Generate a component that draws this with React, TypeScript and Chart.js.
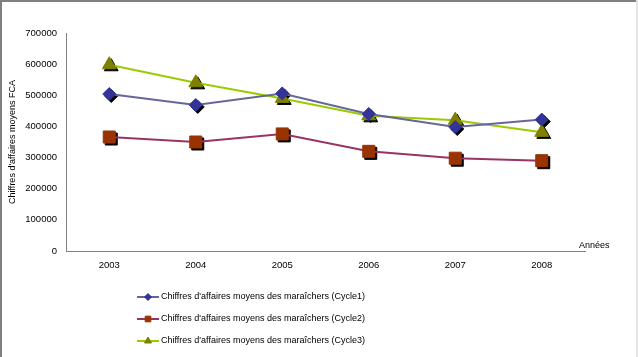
import React, { useEffect, useRef } from "react";
import { Chart, registerables } from "chart.js";
import { drawPoint } from "chart.js/helpers";

Chart.register(...registerables);

const years = ["2003", "2004", "2005", "2006", "2007", "2008"];
const cycle1 = [504000, 469000, 506000, 440000, 398000, 422000];
const cycle2 = [366000, 350000, 376000, 320000, 298000, 290000];
const cycle3 = [598000, 540000, 490000, 434000, 420000, 381000];
const seriesLabels = [
  "Chiffres d'affaires moyens des maraîchers (Cycle1)",
  "Chiffres d'affaires moyens des maraîchers (Cycle2)",
  "Chiffres d'affaires moyens des maraîchers (Cycle3)",
];
const yTitle = "Chiffres d'affaires moyens FCA";
const xTitle = "Années";

const FONT = "'Liberation Sans', Arial, sans-serif";

const decorPlugin = {
  id: "decor",
  beforeDraw(chart: any) {
    const ctx = chart.ctx;
    ctx.save();
    ctx.fillStyle = "#ffffff";
    ctx.fillRect(0, 0, chart.width, chart.height);
    ctx.fillStyle = "#808080";
    ctx.fillRect(0, 0, 2, chart.height);
    ctx.fillRect(0, 0, chart.width, 2);
    ctx.fillStyle = "#e4e4e4";
    ctx.fillRect(chart.width - 2, 0, 2, chart.height);
    ctx.restore();
  },
  beforeDatasetsDraw(chart: any) {
    const ctx = chart.ctx;
    ctx.save();
    chart.data.datasets.forEach((ds: any, i: number) => {
      const meta = chart.getDatasetMeta(i);
      meta.data.forEach((pt: any) => {
        ctx.fillStyle = "#000000";
        ctx.strokeStyle = "#000000";
        ctx.lineWidth = 1;
        drawPoint(
          ctx,
          { pointStyle: ds.pointStyle, radius: ds.pointRadius, borderWidth: 1, rotation: 0 },
          pt.x + 2,
          pt.y + 2
        );
      });
    });
    ctx.restore();
  },
  afterDraw(chart: any) {
    const ctx = chart.ctx;
    ctx.save();
    ctx.fillStyle = "#000000";
    ctx.font = `9px ${FONT}`;
    ctx.textBaseline = "middle";
    ctx.textAlign = "left";
    ctx.fillText(xTitle, 579, 246);
    chart.data.datasets.forEach((ds: any, i: number) => {
      const y = 297 + i * 22;
      ctx.strokeStyle = ds.borderColor;
      ctx.lineWidth = 2;
      ctx.beginPath();
      ctx.moveTo(137, y);
      ctx.lineTo(159, y);
      ctx.stroke();
      ctx.fillStyle = ds.pointBackgroundColor;
      ctx.strokeStyle = ds.pointBackgroundColor;
      ctx.lineWidth = 1;
      drawPoint(
        ctx,
        { pointStyle: ds.pointStyle, radius: ds.legendRadius, borderWidth: 1, rotation: 0 },
        148,
        y
      );
      ctx.fillStyle = "#000000";
      ctx.fillText(ds.label, 161, y);
    });
    ctx.restore();
  },
};

export default function App() {
  const ref = useRef<HTMLCanvasElement | null>(null);
  useEffect(() => {
    if (!ref.current) return;
    const chart = new Chart(ref.current, {
      type: "line",
      data: {
        labels: years,
        datasets: [
          {
            label: seriesLabels[0],
            data: cycle1,
            borderColor: "#666699",
            borderWidth: 2,
            pointStyle: "rectRot",
            pointRadius: 6.5,
            pointBackgroundColor: "#333399",
            pointBorderColor: "#333399",
            pointBorderWidth: 1,
            legendRadius: 3.5,
            tension: 0,
          } as any,
          {
            label: seriesLabels[1],
            data: cycle2,
            borderColor: "#993366",
            borderWidth: 2,
            pointStyle: "rect",
            pointRadius: 8.5,
            pointBackgroundColor: "#993300",
            pointBorderColor: "#993300",
            pointBorderWidth: 1,
            legendRadius: 4,
            tension: 0,
          } as any,
          {
            label: seriesLabels[2],
            data: cycle3,
            borderColor: "#99cc00",
            borderWidth: 2,
            pointStyle: "triangle",
            pointRadius: 8,
            pointBackgroundColor: "#808000",
            pointBorderColor: "#808000",
            pointBorderWidth: 1,
            legendRadius: 4,
            tension: 0,
          } as any,
        ],
      },
      options: {
        responsive: false,
        animation: false,
        layout: { padding: { left: 0, right: 53, top: 33, bottom: 0 } },
        plugins: {
          legend: { display: false },
          tooltip: { enabled: false },
        },
        scales: {
          x: {
            offset: true,
            grid: { display: true, drawOnChartArea: false, drawTicks: false },
            border: { display: true, color: "#808080", width: 1 },
            ticks: { color: "#000000", font: { family: FONT, size: 9.5 }, padding: 9, maxRotation: 0 },
            afterFit(scale: any) {
              scale.height = 106;
            },
          },
          y: {
            min: 0,
            max: 700000,
            grid: { display: true, drawOnChartArea: false, drawTicks: false },
            border: { display: true, color: "#808080", width: 1 },
            ticks: {
              stepSize: 100000,
              color: "#000000",
              font: { family: FONT, size: 9.5 },
              padding: 9,
              callback: (v: any) => String(v),
            },
            title: {
              display: true,
              text: yTitle,
              color: "#000000",
              font: { family: FONT, size: 9 },
              padding: { top: 7, bottom: 0 },
            },
            afterFit(scale: any) {
              scale.width = 66;
            },
          },
        },
      },
      plugins: [decorPlugin],
    });
    return () => chart.destroy();
  }, []);
  return (
    <div style={{ position: "fixed", left: 0, top: 0, width: 638, height: 357, background: "#fff" }}>
      <canvas ref={ref} width={638} height={357} style={{ width: 638, height: 357, display: "block" }} />
    </div>
  );
}
